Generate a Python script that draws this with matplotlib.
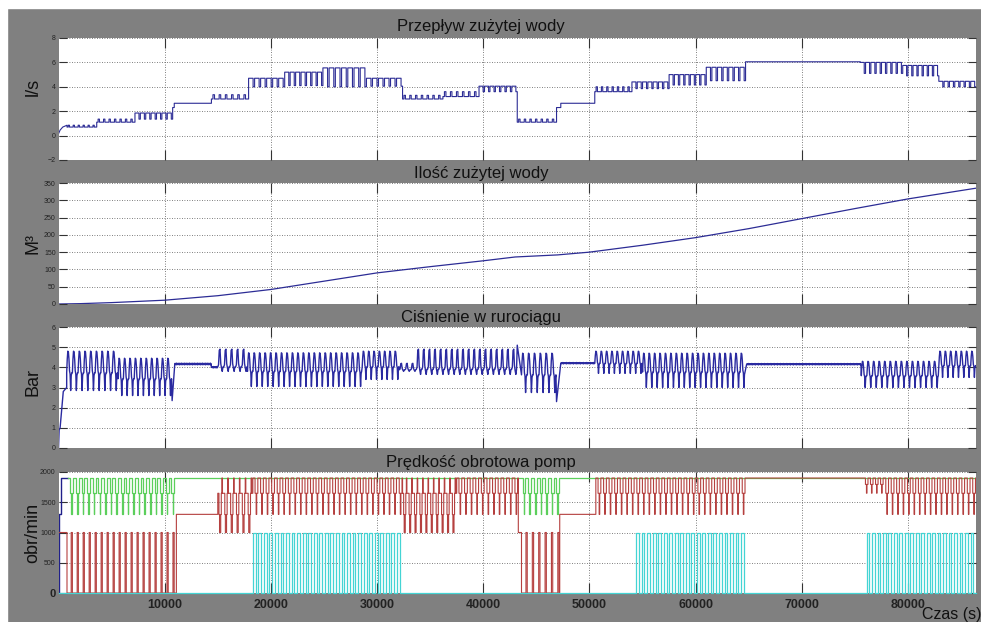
import matplotlib.pyplot as plt
import numpy as np
from matplotlib.patches import Rectangle

plt.rcParams['font.family'] = ['Liberation Sans', 'DejaVu Sans']

# ---- data ----
# segments: (t_start, t_end, low, high, cycles, shape)
flow_ramp_t = [0, 150, 400, 800]
flow_ramp_y = [0.15, 0.45, 0.7, 0.85]
flow_segments = [
    (800, 3600, 0.7, 0.85, 6, 'h'),
    (3600, 7200, 1.1, 1.35, 7, 'h'),
    (7200, 10750, 1.35, 1.85, 7, 'd'),
    (10750, 10900, 2.3, 2.3, 1, 'c'),
    (10900, 14400, 2.65, 2.65, 1, 'c'),
    (14400, 17900, 3.0, 3.35, 6, 'h'),
    (17900, 21300, 4.0, 4.7, 6, 'd'),
    (21300, 24900, 4.1, 5.2, 7, 'd'),
    (24900, 29000, 4.0, 5.55, 7, 'd'),
    (29000, 32400, 4.05, 4.7, 6, 'd'),
    (32400, 36200, 3.0, 3.3, 7, 'h'),
    (36200, 39600, 3.2, 3.6, 6, 'h'),
    (39600, 43200, 3.6, 4.05, 7, 'd'),
    (43200, 46900, 1.1, 1.35, 7, 'h'),
    (46900, 47300, 2.3, 2.3, 1, 'c'),
    (47300, 50500, 2.65, 2.65, 1, 'c'),
    (50500, 54000, 3.6, 4.0, 7, 'h'),
    (54000, 57500, 3.85, 4.4, 7, 'd'),
    (57500, 61000, 4.15, 5.0, 7, 'd'),
    (61000, 64700, 4.5, 5.6, 7, 'd'),
    (64700, 75500, 6.05, 6.05, 1, 'c'),
    (75500, 79500, 5.1, 6.0, 8, 'd'),
    (79500, 82900, 4.9, 5.75, 7, 'd'),
    (82900, 86400, 4.0, 4.45, 7, 'd'),
]
flow_shapes = {'d': [1, 1, 1, 0], 'h': [0, 1, 0, 0], 'c': [1]}

volume_t = [0, 2000, 5000, 10000, 15000, 20000, 25000, 30000, 35000, 40000,
            43000, 47000, 50000, 55000, 60000, 65000, 70000, 75000, 80000, 86400]
volume_y = [0, 1, 4, 11, 24, 42, 66, 90, 108, 125,
            136, 142, 150, 170, 192, 218, 247, 276, 304, 335]

press_ramp_t = [0, 60, 150, 250, 450, 770]
press_ramp_y = [0.0, 0.9, 1.0, 1.6, 2.8, 3.0]
press_segments = [
    (770, 5600, 2.85, 4.8, 9, 'w'),
    (5600, 10700, 2.6, 4.45, 10, 'w'),
    (10700, 10800, 2.35, 2.35, 1, 'c'),
    (10950, 14400, 4.1, 4.22, 14, 'n'),
    (14400, 15000, 3.95, 4.05, 2, 'n'),
    (15000, 17800, 3.8, 4.9, 5, 's'),
    (17800, 28600, 3.05, 4.72, 21, 'w'),
    (28600, 32100, 3.4, 4.8, 7, 'w'),
    (32100, 33700, 3.8, 4.2, 3, 's'),
    (33700, 43200, 3.65, 4.9, 18, 's'),
    (43200, 43600, 5.1, 5.1, 1, 'c'),
    (43600, 46900, 2.75, 4.7, 6, 'w'),
    (46900, 47100, 2.3, 2.3, 1, 'c'),
    (47300, 50500, 4.15, 4.25, 10, 'n'),
    (50500, 55000, 3.7, 4.8, 9, 'w'),
    (55000, 64700, 3.0, 4.7, 19, 'w'),
    (64800, 75600, 4.1, 4.2, 36, 'n'),
    (75600, 82900, 3.0, 4.3, 14, 'w'),
    (82900, 86400, 3.5, 4.8, 7, 'w'),
]
press_shapes = {
    'w': [0.45, 0.8, 1.0, 0.98, 0.8, 0.5, 0.42, 0.0, 0.38, 0.45],
    's': [0.2, 0.3, 0.95, 1.0, 0.35, 0.15, 0.0, 0.2],
    'n': [0.5, 0.8, 0.3, 0.6, 0.4, 0.9, 0.2, 0.6],
    'c': [1],
}

pump_shapes = {
    'A': [1, 1, 1, 1, 0.58, 0.58, 0, 0.58, 0.58, 1],
    'B': [0.72, 0.72, 0.33, 0, 0, 0.33, 0.72, 1, 0.72, 0.72],
    'P': [0, 0, 0, 0, 0, 0, 0, 1, 1, 0],
    'Q': [1, 1, 1, 0, 0, 0],
    'c': [1],
}
blue_t = [0, 0, 230, 230, 900]
blue_y = [0, 1300, 1300, 1900, 1900]
green_segments = [
    (900, 10950, 1300, 1900, 19, 'A'),
    (10950, 43500, 1900, 1900, 1, 'c'),
    (43500, 47200, 1300, 1900, 7, 'A'),
    (47200, 86400, 1900, 1900, 1, 'c'),
]
red_segments = [
    (0, 800, 1000, 1000, 1, 'c'),
    (800, 10950, 0, 1000, 18, 'P'),
    (10950, 11100, 0, 0, 1, 'c'),
    (11100, 15000, 1300, 1300, 1, 'c'),
    (15000, 18300, 1000, 1900, 6, 'B'),
    (18300, 32400, 1300, 1900, 27, 'A'),
    (32400, 37500, 1000, 1900, 10, 'B'),
    (37500, 43300, 1300, 1900, 11, 'A'),
    (43300, 43600, 1000, 1000, 1, 'c'),
    (43600, 47200, 0, 1000, 6, 'P'),
    (47200, 50600, 1300, 1300, 1, 'c'),
    (50600, 64700, 1300, 1900, 27, 'A'),
    (64700, 75800, 1900, 1900, 1, 'c'),
    (75800, 77700, 1650, 1900, 4, 'A'),
    (77700, 86400, 1300, 1900, 17, 'A'),
]
cyan_segments = [
    (0, 18300, 0, 0, 1, 'c'),
    (18300, 32400, 0, 1000, 27, 'Q'),
    (32400, 54400, 0, 0, 1, 'c'),
    (54400, 64800, 0, 1000, 20, 'Q'),
    (64800, 76100, 0, 0, 1, 'c'),
    (76100, 86400, 0, 1000, 20, 'Q'),
]

titles = ['Przepływ zużytej wody', 'Ilość zużytej wody',
          'Ciśnienie w rurociągu', 'Prędkość obrotowa pomp']
ylabels = ['l/s', 'M³', 'Bar', 'obr/min']
xticks = [10000, 20000, 30000, 40000, 50000, 60000, 70000, 80000]


def build(segments, shapes, hold=True):
    t, y = [], []
    for t0, t1, lo, hi, n, key in segments:
        shape = shapes[key]
        m = n * len(shape)
        edges = np.linspace(t0, t1, m + 1)
        for i in range(m):
            v = lo + (hi - lo) * shape[i % len(shape)]
            if hold:
                t += [edges[i], edges[i + 1]]
                y += [v, v]
            else:
                t.append(edges[i])
                y.append(v)
    return np.array(t), np.array(y)


W, H = 981, 622
fig = plt.figure(figsize=(W / 100, H / 100), dpi=100, facecolor='#808080')
fig.add_artist(Rectangle((0, 1 - 8 / H), 1, 8 / H, transform=fig.transFigure,
                         color='white', zorder=-5))
fig.add_artist(Rectangle((0, 0), 7 / W, 1, transform=fig.transFigure,
                         color='white', zorder=-5))

tops = [38, 183, 327, 472]
bottoms = [160, 304, 448, 593]
left, right = 58.5, 976
axes = []
for top, bot in zip(tops, bottoms):
    ax = fig.add_axes([left / W, 1 - bot / H, (right - left) / W, (bot - top) / H])
    ax.set_facecolor('white')
    ax.set_xlim(0, 86400)
    ax.set_xticks(xticks)
    ax.grid(True, color='#555555', ls=(0, (1, 2)), lw=0.6)
    ax.tick_params(direction='in', top=True, right=True, color='#333333',
                   width=0.8, labelsize=5, labelcolor='#222222', pad=2)
    ax.tick_params(axis='x', length=7)
    ax.tick_params(axis='y', length=6)
    for s in ax.spines.values():
        s.set_visible(False)
    axes.append(ax)
ax1, ax2, ax3, ax4 = axes

navy = '#2c2c95'
t, y = build(flow_segments, flow_shapes)
ax1.plot(np.r_[flow_ramp_t, t], np.r_[flow_ramp_y, y], color=navy, lw=0.8)
ax1.set_ylim(-2, 8)
ax1.set_yticks([-2, 0, 2, 4, 6, 8])

ax2.plot(volume_t, volume_y, color=navy, lw=0.9)
ax2.set_ylim(0, 350)
ax2.set_yticks(range(0, 351, 50))

t, y = build(press_segments, press_shapes, hold=False)
ax3.plot(np.r_[press_ramp_t, t, 86400], np.r_[press_ramp_y, y, y[-1]],
         color='#2a2aa0', lw=1.0)
ax3.set_ylim(0, 6)
ax3.set_yticks(range(0, 7))

ax4.plot(blue_t, blue_y, color='#20208a', lw=1.0)
t, y = build(green_segments, pump_shapes)
ax4.plot(t, y, color='#5ccf5c', lw=0.9)
t, y = build(red_segments, pump_shapes)
ax4.plot(t, y, color='#b5403f', lw=0.8)
t, y = build(cyan_segments, pump_shapes)
ax4.plot(t, y, color='#44d4d4', lw=0.9, clip_on=False)
ax4.set_ylim(0, 2000)
ax4.set_yticks([0, 500, 1000, 1500, 2000])
ax4.get_yticklabels()[0].set_fontsize(8)
ax4.get_yticklabels()[0].set_fontweight('bold')

for ax in (ax1, ax2, ax3):
    ax.tick_params(labelbottom=False)
ax4.tick_params(axis='x', labelsize=9, pad=4)
for lab in ax4.get_xticklabels():
    lab.set_fontweight('bold')

# titles and axis labels
offsets = [6.5, 5, 5, 4.5]
for top, off, title in zip(tops, offsets, titles):
    fig.text(481 / W, 1 - (top - off) / H, title, ha='center', va='baseline',
             fontsize=12, color='#111111')
label_y = [87, 243, 382, 533]
for ly, lab in zip(label_y, ylabels):
    fig.text(33 / W, 1 - ly / H, lab, rotation=90, ha='center', va='center',
             fontsize=13, color='#111111')
fig.text(922 / W, 1 - 618.5 / H, 'Czas (s)', ha='left', va='baseline',
         fontsize=11.5, color='#111111')

fig.savefig('out.png', dpi=100, facecolor=fig.get_facecolor())
